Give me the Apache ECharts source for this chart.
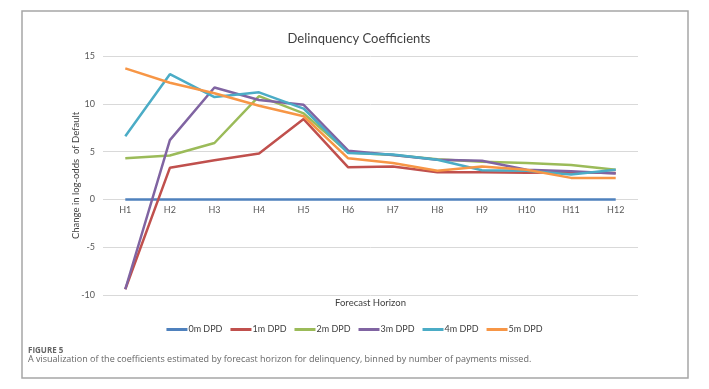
<!DOCTYPE html>
<html>
<head>
<meta charset="utf-8">
<script src="https://cdn.jsdelivr.net/npm/echarts@6/dist/echarts.min.js"></script>
<style>html,body{margin:0;padding:0;background:#fff;}#c{width:709px;height:389px;}</style>
</head>
<body>
<div id="c"></div>
<script>
const categories = ['H1','H2','H3','H4','H5','H6','H7','H8','H9','H10','H11','H12'];
const dpd0 = [0,0,0,0,0,0,0,0,0,0,0,0];
const dpd1 = [-9.4,3.3,4.1,4.8,8.4,3.35,3.45,2.85,2.85,2.8,2.85,2.75];
const dpd2 = [4.3,4.6,5.9,10.8,9.0,4.9,4.65,4.2,3.95,3.8,3.6,3.1];
const dpd3 = [-9.4,6.2,11.7,10.4,9.9,5.1,4.65,4.15,4.05,3.1,2.95,2.7];
const dpd4 = [6.6,13.1,10.7,11.2,9.5,4.85,4.7,4.15,3.05,3.0,2.6,3.1];
const dpd5 = [13.7,12.2,11.1,9.8,8.7,4.3,3.8,3.0,3.45,3.1,2.25,2.25];
const seriesNames = ['0m DPD','1m DPD','2m DPD','3m DPD','4m DPD','5m DPD'];
const seriesData = [dpd0,dpd1,dpd2,dpd3,dpd4,dpd5];
const colors = ['#4F81BD','#C0504D','#9BBB59','#8064A2','#4BACC6','#F79646'];
const yTicks = {min:-10, max:15, interval:5};

const chart = echarts.init(document.getElementById('c'), null, {renderer:'canvas'});
const font = 'Lato, "Open Sans", sans-serif';
chart.setOption({
  animation:false,
  color: colors,
  title:{
    text:'Delinquency Coefficients',
    left:354, top:27, textAlign:'center',
    textStyle:{fontFamily:font, fontSize:13, fontWeight:'normal', color:'#404040'}
  },
  legend:{
    data: seriesNames,
    top: 320, left:'center',
    itemWidth:21, itemHeight:3, itemGap:8,
    icon:'rect',
    textStyle:{fontFamily:font, fontSize:9, color:'#404040', padding:[0,0,0,-4]}
  },
  grid:{left:103, right:71, top:56, bottom:94, containLabel:false, outerBoundsMode:'none'},
  xAxis:{
    type:'category', data:categories, boundaryGap:true,
    axisLine:{show:false, onZero:false},
    axisTick:{show:false},
    axisLabel:{fontFamily:font, fontSize:9, color:'#595959', margin:-89},
    name:'Forecast Horizon', nameLocation:'middle', nameGap:3, nameMoveOverlap:false,
    nameTextStyle:{fontFamily:font, fontSize:9.5, color:'#404040'}
  },
  yAxis:{
    type:'value', min:yTicks.min, max:yTicks.max, interval:yTicks.interval,
    axisLine:{show:false}, axisTick:{show:false},
    axisLabel:{fontFamily:font, fontSize:9, color:'#595959', margin:8},
    splitLine:{lineStyle:{color:'#d9d9d9', width:1}},
    name:'Change in log-odds  of Default', nameLocation:'middle', nameGap:22, nameMoveOverlap:false,
    nameTextStyle:{fontFamily:font, fontSize:9.5, color:'#404040'}
  },
  series: seriesNames.map((n,i)=>({
    name:n, type:'line', data:seriesData[i], symbol:'none',
    lineStyle:{width:2.5, color:colors[i]}, z: i===0 ? 1 : 2
  })),
  graphic:[
    {type:'rect', shape:{x:22, y:11, width:666, height:367}, style:{fill:'none', stroke:'#a6a6a6', lineWidth:1.5}, silent:true},
    {type:'text', left:28, top:347, style:{text:'FIGURE 5', fontFamily:'"Open Sans", sans-serif', fontSize:8, fontWeight:'bold', fill:'#666'}},
    {type:'text', left:28, top:355, style:{text:'A visualization of the coefficients estimated by forecast horizon for delinquency, binned by number of payments missed.', fontFamily:'"Open Sans", sans-serif', fontSize:9, fill:'#666'}}
  ]
});
</script>
</body>
</html>
